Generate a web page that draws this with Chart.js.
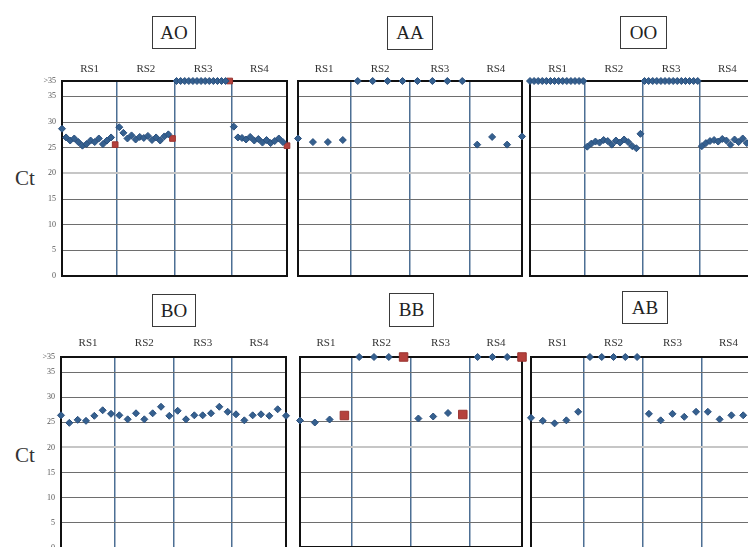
<!DOCTYPE html>
<html>
<head>
<meta charset="utf-8">
<script src="https://cdn.jsdelivr.net/npm/chart.js@4.4.0/dist/chart.umd.min.js"></script>
<style>
body { margin:0; width:748px; height:547px; overflow:hidden; background:#fff; position:relative; font-family:'Liberation Serif', serif; }
canvas { position:absolute; }
.caja { position:absolute; box-sizing:border-box; border:1.5px solid #3a3a3a; font-size:19px; color:#222; display:flex; align-items:center; justify-content:center; }
.ct { position:absolute; font-size:21px; line-height:24px; color:#333; }
</style>
</head>
<body>

<div class="caja" style="left:152px;top:16px;width:44px;height:33px">AO</div>
<div class="caja" style="left:387px;top:16px;width:46px;height:34px">AA</div>
<div class="caja" style="left:620px;top:16px;width:47px;height:33px">OO</div>
<div class="caja" style="left:152px;top:294px;width:44px;height:33px">BO</div>
<div class="caja" style="left:389px;top:293px;width:45px;height:34px">BB</div>
<div class="caja" style="left:622px;top:291px;width:46px;height:33px">AB</div>

<div class="ct" style="left:15px;top:166px">Ct</div>
<div class="ct" style="left:15px;top:443px">Ct</div>

<script>
// ND = no amplifica (>35), se dibuja en la linea de arriba
const ND = 38
const rsLabels = ['RS1', 'RS2', 'RS3', 'RS4']
const yTicks = [0, 5, 10, 15, 20, 25, 30, 35, 38]

const valoresAO = [
  28.7, 27.0, 26.4, 26.8, 26.1, 25.4, 25.7, 26.4, 26.1, 26.8, 25.7, 26.4, 27.0, 25.6,
  29.0, 27.9, 26.8, 27.4, 26.6, 27.1, 26.9, 27.3, 26.5, 27.0, 26.4, 27.2, 27.6, 26.8,
  ND, ND, ND, ND, ND, ND, ND, ND, ND, ND, ND, ND, ND, ND,
  29.1, 27.0, 26.9, 26.6, 27.1, 26.4, 26.7, 26.0, 26.5, 25.9, 26.3, 26.8, 26.1, 25.4
]
const rojosAO = [13, 27, 41, 55]

const valoresAA = [26.8, 26.1, 26.1, 26.5, ND, ND, ND, ND, ND, ND, ND, ND, 25.6, 27.1, 25.6, 27.2]
const rojosAA = []

const valoresOO = [
  ND, ND, ND, ND, ND, ND, ND, ND, ND, ND, ND, ND, ND, ND,
  25.2, 25.8, 26.2, 26.0, 26.5, 26.3, 25.6, 26.4, 26.0, 26.6, 26.1, 25.3, 24.9, 27.7,
  ND, ND, ND, ND, ND, ND, ND, ND, ND, ND, ND, ND, ND, ND,
  25.3, 25.9, 26.3, 26.5, 26.2, 26.7, 26.4, 25.6, 26.6, 26.1, 26.8, 25.9, 26.4, 26.2
]
const rojosOO = []

const valoresBO = [
  26.4, 24.9, 25.5, 25.3, 26.3, 27.4, 26.7,
  26.4, 25.6, 26.8, 25.6, 26.8, 28.1, 26.3,
  27.3, 25.6, 26.4, 26.4, 26.8, 28.1, 27.1,
  26.6, 25.4, 26.4, 26.6, 26.3, 27.6, 26.3
]
const rojosBO = []

const valoresBB = [25.3, 24.9, 25.5, 26.3, ND, ND, ND, ND, 25.7, 26.1, 26.8, 26.5, ND, ND, ND, ND]
const rojosBB = [3, 7, 11, 15]

const valoresAB = [
  25.9, 25.3, 24.8, 25.4, 27.1,
  ND, ND, ND, ND, ND,
  26.7, 25.4, 26.7, 26.1, 27.1,
  27.1, 25.6, 26.4, 26.4, 26.6
]
const rojosAB = []

const paneles = [
  {valores: valoresAO, rojos: rojosAO, x: 62, y: 81, w: 225, h: 195, ejeY: true, sep: 5, radio: 3.5, radioRojo: 4},
  {valores: valoresAA, rojos: rojosAA, x: 298, y: 81, w: 224, h: 195, ejeY: false, sep: 5, radio: 3.5, radioRojo: 6},
  {valores: valoresOO, rojos: rojosOO, x: 530, y: 81, w: 225, h: 195, ejeY: false, sep: 5, radio: 3.5, radioRojo: 4},
  {valores: valoresBO, rojos: rojosBO, x: 61, y: 357, w: 225, h: 191, ejeY: true, sep: 7, radio: 3.5, radioRojo: 6},
  {valores: valoresBB, rojos: rojosBB, x: 299, y: 357, w: 224, h: 191, ejeY: false, sep: 7, radio: 3.5, radioRojo: 6},
  {valores: valoresAB, rojos: rojosAB, x: 531, y: 357, w: 224, h: 191, ejeY: false, sep: 7, radio: 3.5, radioRojo: 6}
]

paneles.forEach(p => crearPanel(p))

function crearPanel(p){
  const izq = p.ejeY ? 30 : 6
  const arriba = 22
  const margen = 6
  const canvas = document.createElement('canvas')
  canvas.width = izq + p.w + margen
  canvas.height = arriba + p.h + margen
  canvas.style.left = (p.x - izq) + 'px'
  canvas.style.top = (p.y - arriba) + 'px'
  document.body.appendChild(canvas)

  const total = p.valores.length
  const n = total / 4
  const max = total - 1
  const divisiones = [n - 0.5, 2 * n - 0.5, 3 * n - 0.5]
  const centros = [(n - 0.5) / 2, 1.5 * n - 0.5, 2.5 * n - 0.5, (3 * n - 0.5 + max) / 2]

  let azules = []
  let rojos = []
  for (let i = 0; i < total; i++){
    if (p.rojos.includes(i)) rojos.push({x: i, y: p.valores[i]})
    else azules.push({x: i, y: p.valores[i]})
  }

  new Chart(canvas, {
    type: 'scatter',
    data: {
      datasets: [{
        data: azules,
        pointStyle: 'rectRot',
        pointRadius: p.radio,
        backgroundColor: '#35608f',
        borderColor: '#2a4f7d',
        borderWidth: 1,
        clip: false
      }, {
        data: rojos,
        pointStyle: 'rect',
        pointRadius: p.radioRojo,
        backgroundColor: '#b5413d',
        borderColor: '#9a3430',
        borderWidth: 1,
        clip: false
      }]
    },
    options: {
      responsive: false,
      animation: false,
      layout: {padding: 0},
      plugins: {legend: {display: false}, tooltip: {enabled: false}},
      scales: {
        x: {
          type: 'linear', position: 'bottom', min: 0, max: max,
          afterBuildTicks: s => { s.ticks = divisiones.map(v => ({value: v})) },
          afterFit: s => { s.height = margen },
          ticks: {display: false},
          grid: {color: '#4d6f94', lineWidth: 1.5, drawTicks: false},
          border: {color: '#111', width: 2}
        },
        xt: {
          type: 'linear', position: 'top', min: 0, max: max,
          afterBuildTicks: s => { s.ticks = centros.map(v => ({value: v})) },
          afterFit: s => { s.height = arriba },
          ticks: {
            callback: (v, i) => rsLabels[i],
            padding: p.sep, autoSkip: false, maxRotation: 0,
            font: {family: 'Liberation Serif', size: 11}, color: '#333'
          },
          grid: {display: false, drawTicks: false},
          border: {color: '#111', width: 2}
        },
        y: {
          type: 'linear', position: 'left', min: 0, max: 38,
          afterBuildTicks: s => { s.ticks = yTicks.map(v => ({value: v})) },
          afterFit: s => {
            s.width = izq
            s.paddingTop = 0
            s.paddingBottom = 0
          },
          ticks: {
            display: p.ejeY,
            callback: v => v === 38 ? '>35' : v,
            padding: 6,
            font: {family: 'Liberation Serif', size: 8}, color: '#555'
          },
          grid: {
            color: c => c.tick && c.tick.value === 20 ? '#c6c6c6' : '#6e6e6e',
            lineWidth: c => c.tick && c.tick.value === 20 ? 2 : 1,
            drawTicks: false
          },
          border: {color: '#111', width: 2}
        },
        yr: {
          type: 'linear', position: 'right', min: 0, max: 38,
          afterFit: s => { s.width = margen },
          ticks: {display: false},
          grid: {display: false, drawTicks: false},
          border: {color: '#111', width: 2}
        }
      }
    }
  })
}
</script>
</body>
</html>
